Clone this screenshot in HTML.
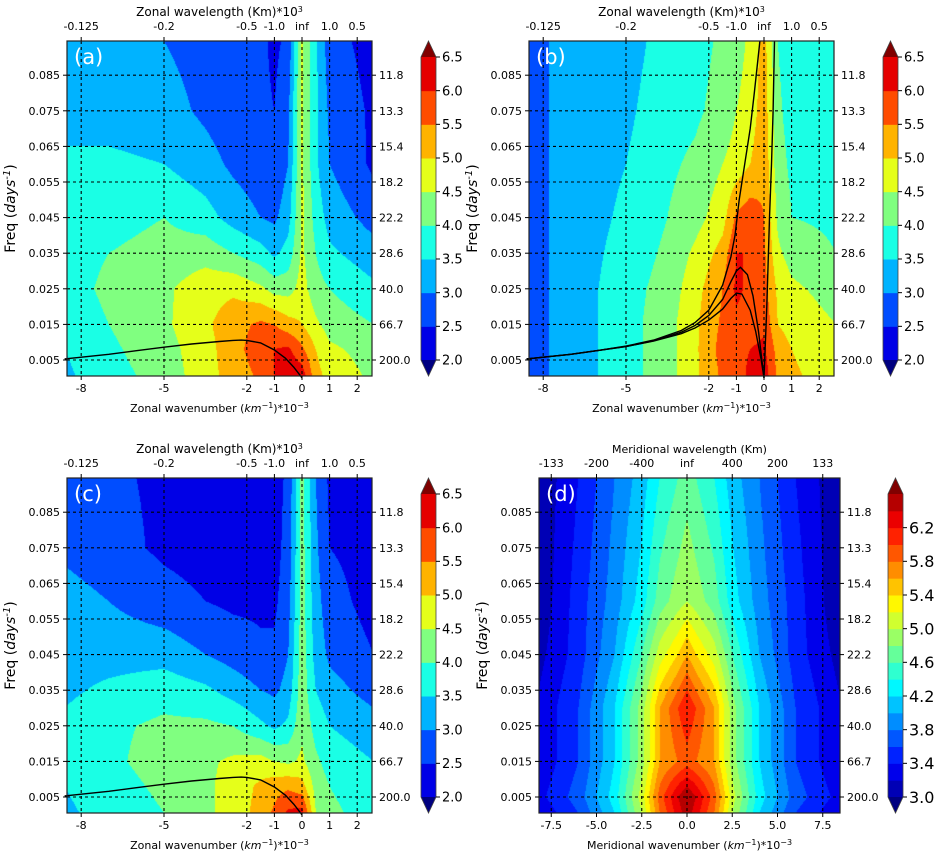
<!DOCTYPE html>
<html><head><meta charset="utf-8"><style>
html,body{margin:0;padding:0;background:#fff;}
#wrap{position:relative;width:939px;height:856px;overflow:hidden;}
canvas,svg{position:absolute;left:0;top:0;}
text{font-family:"DejaVu Sans","Liberation Sans",sans-serif;fill:#000;}
</style></head><body>
<div id="wrap">
<canvas id="field" width="939" height="856"></canvas>
<svg id="chart" width="939" height="856"></svg>
</div>
<script>
// ---------- data ----------
const kCols = [-8.6,-7,-5,-3.5,-2.5,-1.5,-1,-0.5,0,0.5,1,2.6];
const fRows = [0.0946,0.075,0.06,0.045,0.035,0.025,0.015,0.008,0.0005];
const fieldA = [
[3.2,3.2,3.0,2.8,2.6,2.6,2.4,2.6,4.6,3.6,2.7,2.3],
[3.3,3.3,3.2,2.9,2.7,2.6,2.5,2.9,4.6,3.6,2.9,2.4],
[3.6,3.6,3.5,3.2,2.9,2.7,2.6,3.0,4.6,3.6,3.0,2.4],
[3.7,3.8,4.0,3.7,3.3,3.0,2.9,3.3,4.6,3.8,3.3,2.8],
[3.8,4.0,4.2,4.3,4.0,3.7,3.4,3.7,4.6,4.0,3.6,3.2],
[3.8,4.1,4.4,4.8,4.9,4.6,4.3,4.3,4.7,4.2,4.0,3.6],
[3.7,4.0,4.4,4.9,5.3,5.6,5.5,5.2,5.0,4.6,4.3,4.0],
[3.5,3.9,4.3,4.8,5.3,5.8,6.0,6.1,5.6,5.0,4.6,4.3],
[3.4,3.8,4.2,4.8,5.2,5.6,6.0,6.4,6.3,5.2,4.8,4.4]];
const fieldB = [
[2.8,3.2,3.3,3.7,3.8,4.1,4.3,4.6,5.2,4.0,3.7,3.6],
[2.8,3.2,3.4,3.8,3.9,4.2,4.5,4.7,5.3,4.1,3.8,3.7],
[2.8,3.2,3.5,3.9,4.1,4.5,4.7,5.0,5.4,4.2,3.9,3.8],
[2.8,3.2,3.6,4.0,4.3,4.8,5.6,5.8,5.5,4.4,4.0,3.9],
[2.8,3.2,3.7,4.1,4.6,5.2,6.0,6.0,5.6,4.6,4.3,4.0],
[2.8,3.2,3.8,4.2,4.8,5.5,6.1,5.9,5.7,4.9,4.6,4.3],
[2.8,3.2,3.8,4.3,4.9,5.6,5.9,5.8,5.9,5.0,4.8,4.5],
[2.8,3.2,3.8,4.3,4.9,5.7,5.9,6.0,6.1,5.3,5.0,4.6],
[2.8,3.2,3.8,4.3,4.9,5.6,5.8,6.1,6.3,5.4,5.1,4.7]];
const fieldC = [
[2.7,2.6,2.4,2.3,2.3,2.3,2.3,2.6,4.2,3.0,2.4,2.3],
[2.9,2.7,2.4,2.3,2.3,2.3,2.3,2.7,4.2,3.1,2.5,2.3],
[3.2,3.0,2.7,2.5,2.4,2.4,2.4,2.8,4.2,3.2,2.7,2.3],
[3.3,3.3,3.3,3.0,2.8,2.6,2.6,3.0,4.3,3.3,2.9,2.5],
[3.4,3.6,3.8,3.6,3.3,3.0,2.9,3.2,4.3,3.5,3.2,2.8],
[3.6,3.9,4.1,4.1,4.0,3.6,3.4,3.6,4.4,3.8,3.5,3.2],
[3.6,3.9,4.2,4.4,4.6,4.7,4.5,4.4,4.6,4.1,3.8,3.5],
[3.5,3.8,4.1,4.4,4.7,5.1,5.3,5.4,5.2,4.3,4.0,3.7],
[3.4,3.7,4.0,4.4,4.7,5.2,5.6,6.1,6.2,4.5,4.1,3.8]];
const mCols = [-8.4,-6,-4,-2.5,-1.5,-0.5,0,0.5,1.5,2.5,4,6,8.6];
const fRowsD = [0.0946,0.06,0.045,0.03,0.015,0.005,0.0005];
const fieldD = [
[3.0,3.4,3.8,4.1,4.4,4.6,4.7,4.6,4.4,4.1,3.8,3.4,3.0],
[3.0,3.5,3.9,4.3,4.7,4.9,5.0,4.9,4.7,4.3,3.9,3.5,3.0],
[3.1,3.5,4.0,4.6,5.1,5.4,5.6,5.4,5.1,4.6,4.0,3.5,3.1],
[3.2,3.6,4.2,4.9,5.6,6.0,6.2,6.0,5.6,4.9,4.2,3.6,3.2],
[3.2,3.6,4.2,4.9,5.6,5.8,5.9,5.8,5.6,4.9,4.2,3.6,3.2],
[3.3,3.7,4.3,5.1,5.9,6.4,6.6,6.4,5.9,5.1,4.3,3.7,3.3],
[3.2,3.6,4.2,5.0,5.8,6.3,6.5,6.3,5.8,5.0,4.2,3.6,3.2]];
const levelsABC = [2.0,2.5,3.0,3.5,4.0,4.5,5.0,5.5,6.0,6.5];
const levelsD = [3.0,3.2,3.4,3.6,3.8,4.0,4.2,4.4,4.6,4.8,5.0,5.2,5.4,5.6,5.8,6.0,6.2,6.4,6.6];
const cbLabelsABC = ['2.0','2.5','3.0','3.5','4.0','4.5','5.0','5.5','6.0','6.5'];
const cbLabelsD = ['3.0','3.4','3.8','4.2','4.6','5.0','5.4','5.8','6.2'];
const cbValsD = [3.0,3.4,3.8,4.2,4.6,5.0,5.4,5.8,6.2];
const kTicks = [-8,-5,-2,-1,0,1,2];
const kTickLabels = ['-8','-5','-2','-1','0','1','2'];
const kTopLabels = ['-0.125','-0.2','-0.5','-1.0','inf','1.0','0.5'];
const mTicks = [-7.5,-5,-2.5,0,2.5,5,7.5];
const mTickLabels = ['-7.5','-5.0','-2.5','0.0','2.5','5.0','7.5'];
const mTopLabels = ['-133','-200','-400','inf','400','200','133'];
const fTicks = [0.005,0.015,0.025,0.035,0.045,0.055,0.065,0.075,0.085];
const fTickLabels = ['0.005','0.015','0.025','0.035','0.045','0.055','0.065','0.075','0.085'];
const periodLabels = ['200.0','66.7','40.0','28.6','22.2','18.2','15.4','13.3','11.8'];
const curveAK = [-8.6,-7,-6,-5,-4,-3,-2.5,-2.2,-2,-1.5,-1,-0.6,-0.3,0];
const curveAF = [0.0053,0.0066,0.0076,0.0086,0.0095,0.0102,0.0105,0.0106,0.0105,0.0098,0.0078,0.0055,0.003,0.0];
const curveB1K = [-8.6,-7,-6,-5,-4,-3,-2.5,-2,-1.5,-1.2,-1,-0.8,-0.5,-0.3,-0.1,0];
const curveB1F = [0.0053,0.0066,0.0077,0.0088,0.0103,0.0124,0.014,0.0162,0.0193,0.0223,0.0238,0.0235,0.019,0.013,0.005,0];
const curveB2K = [-8.6,-7,-6,-5,-4,-3,-2.5,-2,-1.5,-1.2,-1,-0.85,-0.6,-0.4,-0.2,0];
const curveB2F = [0.0053,0.0066,0.0077,0.0088,0.0104,0.0128,0.0147,0.0175,0.022,0.027,0.030,0.031,0.029,0.023,0.013,0];
const curveB3K = [-8.6,-7,-6,-5,-4,-3,-2.5,-2,-1.5,-1.2,-1.05,-0.9,-0.7,-0.5,-0.35,-0.15];
const curveB3F = [0.0053,0.0066,0.0077,0.0089,0.0106,0.0133,0.0155,0.019,0.026,0.034,0.040,0.050,0.060,0.070,0.080,0.0946];
const curveB4K = [0,0.05,0.1,0.15,0.2,0.27,0.33,0.38];
const curveB4F = [0,0.01,0.02,0.032,0.045,0.06,0.075,0.0946];

// ---------- layout ----------
const NS='http://www.w3.org/2000/svg';
const svg=document.getElementById('chart');
function mk(tag,attrs,parent){const e=document.createElementNS(NS,tag);for(const a in attrs)e.setAttribute(a,attrs[a]);(parent||svg).appendChild(e);return e;}
function jet(t){const c=v=>Math.round(255*Math.max(0,Math.min(1,v)));return [c(1.5-Math.abs(4*t-3)),c(1.5-Math.abs(4*t-2)),c(1.5-Math.abs(4*t-1))];}
function binColors(n){const arr=[];for(let i=0;i<n;i++)arr.push(jet((i+1)/(n+1)));return arr;}
const panels=[
 {id:'a',x0:67,x1:372,y0:41,y1:376,xz:302,xs:27.6,yb:360,cols:kCols,rows:fRows,field:fieldA,lev:levelsABC,cb:421,curves:[[curveAK,curveAF]],zonal:true},
 {id:'b',x0:529,x1:834,y0:41,y1:376,xz:764,xs:27.6,yb:360,cols:kCols,rows:fRows,field:fieldB,lev:levelsABC,cb:883,curves:[[curveB1K,curveB1F],[curveB2K,curveB2F],[curveB3K,curveB3F],[curveB4K,curveB4F]],zonal:true},
 {id:'c',x0:67,x1:372,y0:478,y1:813,xz:302,xs:27.6,yb:797,cols:kCols,rows:fRows,field:fieldC,lev:levelsABC,cb:421,curves:[[curveAK,curveAF]],zonal:true},
 {id:'d',x0:539,x1:840,y0:478,y1:813,xz:687,xs:18.1,yb:797,cols:mCols,rows:fRowsD,field:fieldD,lev:levelsD,cb:888,curves:[],zonal:false}
];
const FS=3560;
function interp(p,k,f){
 const c=p.cols,r=p.rows;let i=0;while(i<c.length-2&&k>c[i+1])i++;
 let j=0;while(j<r.length-2&&f<r[j+1])j++;
 let tx=(k-c[i])/(c[i+1]-c[i]);tx=Math.max(0,Math.min(1,tx));
 let ty=(r[j]-f)/(r[j]-r[j+1]);ty=Math.max(0,Math.min(1,ty));
 const v=p.field;
 return v[j][i]*(1-tx)*(1-ty)+v[j][i+1]*tx*(1-ty)+v[j+1][i]*(1-tx)*ty+v[j+1][i+1]*tx*ty;
}
const ctx=document.getElementById('field').getContext('2d');
const img=ctx.createImageData(939,856);
for(const p of panels){
 const nb=p.lev.length-1,cols=binColors(nb),under=jet(0),over=jet(1);
 for(let y=p.y0;y<p.y1;y++){const f=0.005+(p.yb-(y+0.5))/FS;
  for(let x=p.x0;x<p.x1;x++){const k=(x+0.5-p.xz)/p.xs;const v=interp(p,k,f);
   let col;if(v<p.lev[0])col=under;else if(v>=p.lev[nb])col=over;else{let b=0;while(b<nb-1&&v>=p.lev[b+1])b++;col=cols[b];}
   const o=(y*939+x)*4;img.data[o]=col[0];img.data[o+1]=col[1];img.data[o+2]=col[2];img.data[o+3]=255;}}
}
ctx.putImageData(img,0,0);
function rgb(c){return 'rgb('+c.join(',')+')';}

for(const p of panels){
 const X=k=>p.xz+k*p.xs, Y=f=>p.yb-(f-0.005)*FS;
 const g=mk('g',{});
 
 
 const xt=p.zonal?kTicks:mTicks, xl=p.zonal?kTickLabels:mTickLabels, tl=p.zonal?kTopLabels:mTopLabels;
 xt.forEach(k=>{const l=mk('line',{x1:X(k),x2:X(k),y1:p.y0,y2:p.y1,stroke:'#000','stroke-width':1.1,'stroke-dasharray':'3,3'},g);
  
  });
 fTicks.forEach(f=>{const l=mk('line',{x1:p.x0,x2:p.x1,y1:Y(f),y2:Y(f),stroke:'#000','stroke-width':1.1,'stroke-dasharray':'3,3'},g);
  
  });
 p.curves.forEach(cv=>{const pts=cv[0].map((k,i)=>X(k).toFixed(1)+','+Y(cv[1][i]).toFixed(1)).join(' ');
  const pl=mk('polyline',{points:pts,fill:'none',stroke:'#000','stroke-width':1.4},g);
  
  });
 const fr=mk('rect',{x:p.x0,y:p.y0,width:p.x1-p.x0,height:p.y1-p.y0,fill:'none',stroke:'#222','stroke-width':1.2},g);
 
 
 xt.forEach((k,i)=>{mk('line',{x1:X(k),x2:X(k),y1:p.y1,y2:p.y1+4,stroke:'#000'},g);mk('line',{x1:X(k),x2:X(k),y1:p.y0,y2:p.y0-4,stroke:'#000'},g);
  const t=mk('text',{x:X(k),y:p.y1+16,'text-anchor':'middle','font-size':11},g);t.textContent=xl[i];
  
  
  const t2=mk('text',{x:X(k),y:p.y0-11,'text-anchor':'middle','font-size':11},g);t2.textContent=tl[i];
  
  });
 fTicks.forEach((f,i)=>{mk('line',{x1:p.x0,x2:p.x0-4,y1:Y(f),y2:Y(f),stroke:'#000'},g);mk('line',{x1:p.x1,x2:p.x1+4,y1:Y(f),y2:Y(f),stroke:'#000'},g);
  const t=mk('text',{x:p.x0-7,y:Y(f)+4,'text-anchor':'end','font-size':11},g);t.textContent=fTickLabels[i];
  
  
  const t2=mk('text',{x:p.x1+7,y:Y(f)+4,'font-size':11},g);t2.textContent=periodLabels[i];
  
  });
 const cx=(p.x0+p.x1)/2;
 const tt=mk('text',{x:cx,y:p.y0-25,'text-anchor':'middle','font-size':p.zonal?12:11},g);
 tt.innerHTML=p.zonal?'Zonal wavelength (Km)*10<tspan dy="-4" font-size="8">3</tspan>':'Meridional wavelength (Km)';
 
 
 const bt=mk('text',{x:cx,y:p.y1+36,'text-anchor':'middle','font-size':11},g);
 bt.innerHTML=(p.zonal?'Zonal':'Meridional')+' wavenumber (<tspan font-style="italic">km</tspan><tspan dy="-4" font-size="8">−1</tspan><tspan dy="4">)*10</tspan><tspan dy="-4" font-size="8">−3</tspan>';
 
 
 const yc=(p.y0+p.y1)/2, yx=p.x0-52;
 const yt=mk('text',{x:yx,y:yc,'text-anchor':'middle','font-size':14,transform:'rotate(-90 '+yx+' '+yc+')'},g);
 yt.innerHTML='Freq (<tspan font-style="italic">days</tspan><tspan dy="-5" font-size="10" font-style="italic">-1</tspan><tspan dy="5">)</tspan>';
 
 
 const pl=mk('text',{x:p.x0+7,y:p.y0+23,'font-size':21,style:'fill:#fff'},g);pl.textContent='('+p.id+')';
 
 
 const nb=p.lev.length-1,cols=binColors(nb);
 const cbTop=p.y0+16,cbBot=p.y1-16,bh=(cbBot-cbTop)/nb,cw=15,x=p.cb;
 const CY=v=>cbBot-(v-p.lev[0])/(p.lev[nb]-p.lev[0])*(cbBot-cbTop);
 const cg=mk('g',{},g);
 
 
 for(let i=0;i<nb;i++){const r=mk('rect',{x:x,y:CY(p.lev[i+1]),width:cw,height:bh+0.5,fill:rgb(cols[i])},cg);
  
  }
 const up=mk('polygon',{points:`${x},${cbTop} ${x+cw},${cbTop} ${x+cw/2},${p.y0}`,fill:rgb(jet(1))},cg);
 
 
 const dn=mk('polygon',{points:`${x},${cbBot} ${x+cw},${cbBot} ${x+cw/2},${p.y1}`,fill:rgb(jet(0))},cg);
 
 
 mk('polygon',{points:`${x+cw/2},${p.y0} ${x+cw},${cbTop} ${x+cw},${cbBot} ${x+cw/2},${p.y1} ${x},${cbBot} ${x},${cbTop}`,fill:'none',stroke:'#444','stroke-width':0.8},cg);
 const lv=p.zonal?levelsABC:cbValsD, ll=p.zonal?cbLabelsABC:cbLabelsD, fs=p.zonal?13:16;
 lv.forEach((v,i)=>{mk('line',{x1:x+cw,x2:x+cw+4,y1:CY(v),y2:CY(v),stroke:'#000'},cg);
  const t=mk('text',{x:x+cw+6,y:CY(v)+fs*0.36,'font-size':fs},cg);t.textContent=ll[i];
  
  });
}
</script>
</body></html>
